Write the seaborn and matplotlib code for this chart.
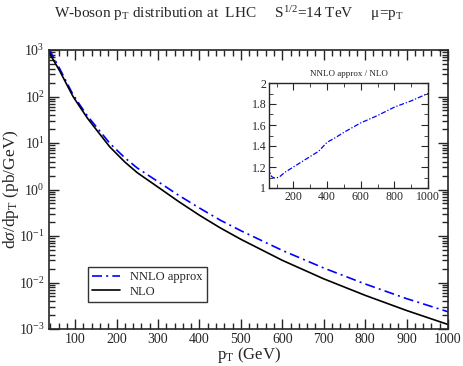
import numpy as np
import pandas as pd
import matplotlib
matplotlib.use("Agg")
import matplotlib.pyplot as plt
import matplotlib.ticker as mticker
import seaborn as sns

# pT grid (GeV) and cross sections (pb/GeV)
pt = [37, 50, 64, 80, 95, 112, 130, 150, 184, 220, 250, 305, 350, 400,
      450, 500, 600, 700, 800, 900, 1000]
nlo = [890, 560, 340, 180, 100, 59, 34, 20, 8.2, 3.9, 2.3, 1.05, 0.55,
       0.28, 0.15, 0.085, 0.030, 0.0120, 0.0053, 0.0025, 0.00125]
nnlo = [1070, 640, 380, 198, 110, 65, 38, 23, 9.8, 4.8, 2.9, 1.38, 0.75,
        0.40, 0.22, 0.13, 0.049, 0.0205, 0.0093, 0.0045, 0.00235]

# ratio NNLO approx / NLO for inset
pt_ratio = [50, 60, 70, 80, 90, 100, 120, 150, 200, 250, 300, 350, 400, 450,
            500, 600, 700, 800, 900, 1000]
ratio = [1.21, 1.15, 1.11, 1.10, 1.095, 1.095, 1.11, 1.15, 1.20, 1.25, 1.30,
         1.35, 1.435, 1.48, 1.53, 1.62, 1.69, 1.77, 1.83, 1.90]

sns.set_style("ticks")
plt.rcParams['font.family'] = ['Liberation Serif', 'DejaVu Serif']
plt.rcParams['mathtext.fontset'] = 'custom'
plt.rcParams['mathtext.rm'] = 'Liberation Serif'
plt.rcParams['mathtext.it'] = 'Liberation Serif:italic'
plt.rcParams['mathtext.bf'] = 'Liberation Serif:bold'

df = pd.DataFrame({'pt': pt * 2, 'val': nnlo + nlo,
                   'curve': ['NNLO approx'] * len(pt) + ['NLO'] * len(pt)})
df_r = pd.DataFrame({'pt': pt_ratio, 'ratio': ratio})

fig = plt.figure(figsize=(4.63, 3.66), dpi=100)
W, H = 463, 366
ax = fig.add_axes([49 / W, 1 - 329 / H, (448 - 49) / W, (329 - 50) / H])

sns.lineplot(data=df, x='pt', y='val', hue='curve', style='curve',
             palette={'NNLO approx': '#0000ff', 'NLO': 'black'},
             dashes={'NNLO approx': (6, 2.5, 1.2, 2.5), 'NLO': ''},
             linewidth=1.2, ax=ax)
ax.set_yscale('log')
ax.set_xlim(37, 1000)
ax.set_ylim(1e-3, 1e3)
ax.xaxis.set_major_locator(mticker.FixedLocator(np.arange(100, 1001, 100)))
ax.xaxis.set_minor_locator(mticker.FixedLocator(np.arange(40, 1001, 20)))
ax.yaxis.set_major_locator(mticker.LogLocator(base=10, numticks=20))
ax.yaxis.set_minor_locator(mticker.LogLocator(base=10, subs=np.arange(2, 10), numticks=20))
ax.yaxis.set_minor_formatter(mticker.NullFormatter())
ax.tick_params(which='both', direction='in', top=True, right=True, labelsize=10, width=1, pad=3)
ax.tick_params(which='major', length=7)
ax.tick_params(which='minor', length=4)
for s in ax.spines.values():
    s.set_linewidth(1.2)
ax.set_xlabel(r'p$_\mathrm{T}$ (GeV)', fontsize=12, labelpad=-1)
ax.set_ylabel(r'd$\sigma$/dp$_\mathrm{T}$ (pb/GeV)', fontsize=12.5)
ax.yaxis.set_label_coords(-0.07, 0.5)

leg = ax.legend(loc='lower left', bbox_to_anchor=(0.098, 0.097), borderaxespad=0,
                fontsize=9, frameon=True, fancybox=False, edgecolor='black',
                handlelength=2.2, borderpad=0.35, labelspacing=0.2, handletextpad=0.8)
leg.get_frame().set_linewidth(1.0)
leg.set_title(None)

fig.text(0.495, 1 - 14 / H,
         r'W-boson p$_\mathrm{T}$ distribution at  LHC     S$^{1/2}$=14 TeV     μ=p$_\mathrm{T}$',
         ha='center', va='center', fontsize=11)

# inset with ratio
axi = fig.add_axes([269 / W, 1 - 188 / H, (428 - 269) / W, (188 - 83) / H])
sns.lineplot(data=df_r, x='pt', y='ratio', color='#0000ff', linewidth=0.9,
             linestyle=(0, (4, 1.5, 1, 1.5)), ax=axi)
axi.set_xlim(55, 1000)
axi.set_ylim(1, 2)
axi.xaxis.set_major_locator(mticker.FixedLocator(np.arange(200, 1001, 200)))
axi.xaxis.set_minor_locator(mticker.FixedLocator(np.arange(100, 1001, 100)))
axi.yaxis.set_major_locator(mticker.MultipleLocator(0.2))
axi.yaxis.set_minor_locator(mticker.MultipleLocator(0.1))
axi.yaxis.set_major_formatter(mticker.FuncFormatter(lambda v, p: f'{v:g}'))
axi.tick_params(which='both', direction='in', top=True, right=True, labelsize=8.5, pad=2)
axi.tick_params(which='major', length=5)
axi.tick_params(which='minor', length=3)
axi.set_xlabel('')
axi.set_ylabel('')
axi.set_title('NNLO approx / NLO', fontsize=6.5, pad=5)
for s in axi.spines.values():
    s.set_linewidth(1.0)

fig.savefig('out.png', dpi=100)
